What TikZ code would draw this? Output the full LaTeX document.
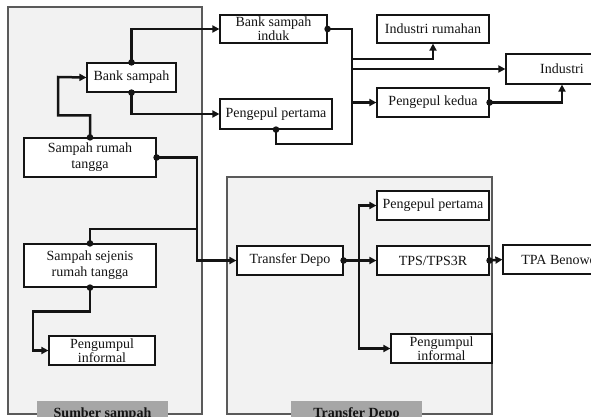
\documentclass[tikz,border=0pt]{standalone}
\usepackage{fontspec}
\setmainfont{Liberation Serif}
\usetikzlibrary{arrows.meta,calc}
\definecolor{panelfill}{HTML}{F2F2F2}
\definecolor{paneledge}{HTML}{5A5A5A}
\definecolor{labelfill}{HTML}{A6A6A6}
\definecolor{ink}{HTML}{141414}
\tikzset{
  box/.style={draw=ink, line width=1.2pt, fill=white, inner sep=1pt,
    font=\fontsize{14}{16}\selectfont, text=ink, align=center},
  panel/.style={draw=paneledge, line width=1.4pt, fill=panelfill},
  paneltag/.style={fill=labelfill, draw=none},
  tagtext/.style={font=\fontsize{14}{16}\selectfont\bfseries, text=ink, anchor=base},
  conn/.style={draw=ink, line width=2.5pt, -{Triangle[length=7pt,width=7pt]}},
  plain/.style={draw=ink, line width=2.5pt},
  dotc/.style={fill=ink}
}
\begin{document}
\begin{tikzpicture}[x=1pt,y=-1pt]
\useasboundingbox (0,0) rectangle (591,416);
\clip (0,0) rectangle (591,416);
\fill[white] (0,0) rectangle (591,416);
% panels
\draw[panel] (8,7) rectangle (202,414);
\draw[panel] (227,177) rectangle (492,414);
\fill[paneltag] (37,401) rectangle (168,430);
\fill[paneltag] (291,401) rectangle (422,430);
\node[tagtext] (tag1) at (102.5,417.5) {Sumber sampah};
\node[tagtext] (tag2) at (356.5,417.5) {Transfer Depo};
% nodes
\node[box, minimum width=107pt, minimum height=28pt] (bsi) at (273.5,29) {Bank sampah\\[-2pt]induk};
\node[box, minimum width=89pt, minimum height=29pt] (bs) at (131.5,77.5) {Bank sampah};
\node[box, minimum width=112pt, minimum height=30pt] (pp1) at (276,114) {Pengepul pertama};
\node[box, minimum width=132pt, minimum height=39pt] (srt) at (90,157.5) {Sampah rumah\\tangga};
\node[box, minimum width=112pt, minimum height=28pt] (ir) at (433,29) {Industri rumahan};
\node[box, minimum width=112pt, minimum height=30pt] (ind) at (562,69) {Industri};
\node[box, minimum width=112pt, minimum height=29pt] (pk) at (433,102.5) {Pengepul kedua};
\node[box, minimum width=132pt, minimum height=43pt] (ssrt) at (90,265.5) {Sampah sejenis\\rumah tangga};
\node[box, minimum width=106pt, minimum height=29pt] (pi1) at (102,350.5) {Pengumpul\\[-2pt]informal};
\node[box, minimum width=106pt, minimum height=29pt] (td) at (290,260.5) {Transfer Depo};
\node[box, minimum width=112pt, minimum height=29pt] (pp2) at (433,205.5) {Pengepul pertama};
\node[box, minimum width=112pt, minimum height=29pt] (tps) at (433,260.5) {TPS/TPS3R};
\node[box, minimum width=112pt, minimum height=29pt] (tpa) at (559,259.5) {TPA Benowo};
\node[box, minimum width=101pt, minimum height=29pt] (pi2) at (441.5,348.5) {Pengumpul\\[-2pt]informal};
% junction coordinates
\coordinate (va) at (352,0);
\coordinate (vb) at (197,0);
\coordinate (vc) at (359,0);
% connectors
\draw[conn] (srt.north) -- ($(srt.north)+(0,-22)$) -| (58,77) -- (bs.west);
\draw[conn] (bs.north) |- (bsi.west);
\draw[conn] (bs.south) |- (pp1.west);
\draw[plain] (bsi.east) -| (va |- 0,144) -| (pp1.south);
\draw[conn] (va |- 0,59) -| (ir.south);
\draw[conn] (va |- ind.west) -- (ind.west);
\draw[conn] (va |- pk.west) -- (pk.west);
\draw[conn] (pk.east) -| (ind.south);
\draw[conn] (srt.east) -| (vb |- td.west) -- (td.west);
\draw[plain] (ssrt.north) |- (vb |- 0,229);
\draw[conn] (ssrt.south) -- ($(ssrt.south)+(0,24)$) -| (33,330) |- (pi1.west);
\draw[conn] (td.east) -- (tps.west);
\draw[conn, {Triangle[length=7pt,width=7pt]}-{Triangle[length=7pt,width=7pt]}] (pi2.west) -| (vc |- pp2.west) -- (pp2.west);
\draw[conn] (tps.east) -- (tpa.west);
% dots
\foreach \p in {srt.north, bs.north, bs.south, bsi.east, pp1.south, pk.east, srt.east, ssrt.north, ssrt.south, td.east, tps.east}
  \fill[dotc] (\p) circle (3.3pt);
\end{tikzpicture}
\end{document}
